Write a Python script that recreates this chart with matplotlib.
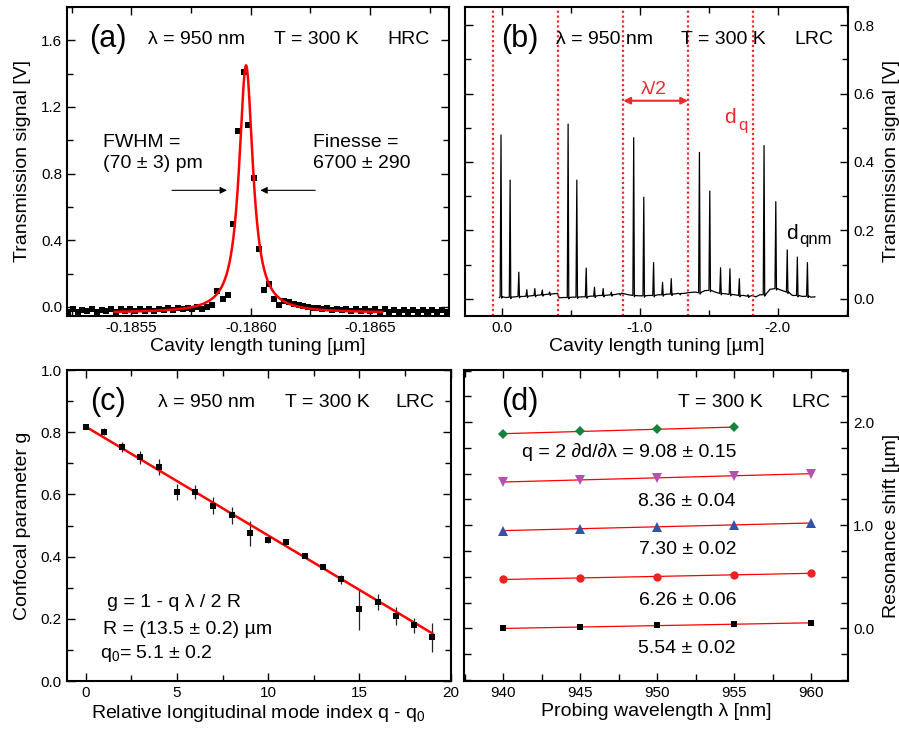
import numpy as np
import matplotlib
matplotlib.use('Agg')
import matplotlib.pyplot as plt
from matplotlib.ticker import MultipleLocator, FormatStrFormatter, FixedLocator

plt.rcParams['font.family'] = ['Liberation Sans', 'DejaVu Sans']
plt.rcParams['axes.unicode_minus'] = False
plt.rcParams['mathtext.fontset'] = 'custom'
plt.rcParams['mathtext.rm'] = 'Liberation Sans'
plt.rcParams['mathtext.it'] = 'Liberation Sans:italic'

RED = '#ff0000'
ANN_RED = '#ec2a2e'

# ---- (a) HRC transmission peak, x as offset in pm from -0.1860 um
a_off_pm = [765, 745, 725, 705, 685, 665, 645, 625, 605, 585, 565, 545, 525, 505,
            485, 465, 445, 425, 405, 385, 365, 345, 325, 305,
            285, 265, 245, 225, 205, 185,
            162, 141, 116, 95, 73, 53, 27, 10, -14, -33, -56, -77, -99, -120, -140, -160,
            -180, -200, -220, -240, -260, -280, -300, -320, -340, -360, -380, -400,
            -420, -440, -460, -480, -500, -520, -540, -560, -580, -600, -620, -640,
            -660, -680, -700, -720, -740, -760, -780, -800, -820, -840]
a_sig = [-0.028, -0.014, -0.030, -0.016, -0.027, -0.013, -0.029, -0.018, -0.026, -0.012,
         -0.028, -0.015, -0.025, -0.012,
         -0.026, -0.011, -0.024, -0.010, -0.022, -0.012, -0.020, -0.008, -0.019, -0.006,
         -0.014, -0.004, -0.012, -0.002, -0.010, 0.000,
         0.012, 0.098, 0.050, 0.074, 0.499, 1.054, 1.407, 1.092, 0.772, 0.345, 0.100,
         0.138, 0.050, 0.010, 0.038, 0.030,
         0.020, 0.012, 0.005, 0.000, -0.008, -0.004, -0.014, -0.008, -0.018, -0.010,
         -0.020, -0.012, -0.024, -0.014, -0.026, -0.013, -0.027, -0.015, -0.028, -0.014,
         -0.029, -0.016, -0.030, -0.017, -0.028, -0.018, -0.031, -0.017, -0.030, -0.019,
         -0.031, -0.018, -0.030, -0.020]
# Lorentzian fit parameters (um)
a_fit_center = -0.18598
a_fit_fwhm = 0.00007
a_fit_amp = 1.485
a_fit_offset = -0.035
a_fit_range = [-0.18543, -0.18655]

# ---- (b) LRC transmission spectrum
b_peak_x = [0.005, -0.061, -0.124, -0.182, -0.240, -0.294, -0.347,
            -0.481, -0.544, -0.612, -0.672, -0.735, -0.794, -0.854,
            -0.956, -1.029, -1.100, -1.165, -1.228, -1.289,
            -1.432, -1.507, -1.585, -1.653, -1.721, -1.784,
            -1.900, -1.985, -2.068, -2.141, -2.214]
b_peak_h = [0.479, 0.347, 0.078, 0.027, 0.030, 0.026, 0.020,
            0.511, 0.347, 0.090, 0.034, 0.030, 0.020, 0.015,
            0.471, 0.297, 0.106, 0.048, 0.059, 0.015,
            0.428, 0.315, 0.091, 0.088, 0.059, 0.012,
            0.448, 0.284, 0.143, 0.122, 0.106]
b_peak_foot = [0.006, 0.005, 0.007, 0.008, 0.010, 0.012, 0.014,
               0.004, 0.005, 0.006, 0.008, 0.010, 0.012, 0.015,
               0.010, 0.009, 0.010, 0.012, 0.014, 0.016,
               0.018, 0.025, 0.016, 0.013, 0.010, 0.008,
               0.012, 0.030, 0.020, 0.010, 0.008]
b_base_x = [0.017, -0.030, -0.092, -0.153, -0.211, -0.267, -0.320, -0.375, -0.405, -0.415,
            -0.445, -0.512, -0.578, -0.642, -0.703, -0.765, -0.824, -0.870, -0.885, -0.920,
            -0.992, -1.064, -1.132, -1.197, -1.258, -1.320, -1.350, -1.400, -1.470, -1.545,
            -1.620, -1.687, -1.752, -1.800, -1.815, -1.840, -1.870, -1.943, -2.027, -2.105,
            -2.178, -2.240, -2.268]
b_base_y = [0.004, 0.004, 0.006, 0.007, 0.009, 0.011, 0.013, 0.015, 0.016, 0.003,
            0.004, 0.005, 0.006, 0.008, 0.010, 0.011, 0.013, 0.017, 0.015, 0.012,
            0.009, 0.010, 0.012, 0.014, 0.015, 0.016, 0.018, 0.020, 0.024, 0.020,
            0.015, 0.012, 0.010, 0.008, 0.010, 0.006, 0.012, 0.028, 0.025, 0.010,
            0.007, 0.005, 0.006]
b_dq_lines = [0.06, -0.41, -0.88, -1.35, -1.82]

# ---- (c) confocal parameter vs mode index
c_q = list(range(20))
c_g = [0.816, 0.802, 0.753, 0.719, 0.688, 0.609, 0.608, 0.564, 0.533, 0.475,
       0.453, 0.448, 0.401, 0.367, 0.327, 0.230, 0.253, 0.209, 0.179, 0.140]
c_err = [0.005, 0.011, 0.016, 0.022, 0.026, 0.026, 0.023, 0.027, 0.027, 0.040,
         0.008, 0.008, 0.005, 0.005, 0.015, 0.067, 0.026, 0.030, 0.025, 0.047]
c_fit_q = [0, 19]
c_fit_g = [0.818, 0.153]

# ---- (d) resonance shift vs wavelength
d_lam = [940, 945, 950, 955, 960]
d_shift_black = [0.000, 0.013, 0.029, 0.039, 0.055]
d_shift_red = [0.477, 0.487, 0.503, 0.519, 0.536]
d_shift_blue = [0.948, 0.968, 0.984, 1.003, 1.023]
d_shift_magenta = [1.419, 1.440, 1.460, 1.480, 1.500]
d_lam_green = [940, 945, 950, 955]
d_shift_green = [1.887, 1.910, 1.932, 1.951]
d_q_labels = ['5.54 ± 0.02', '6.26 ± 0.06', '7.30 ± 0.02', '8.36 ± 0.04',
              'q = 2 ∂d/∂λ = 9.08 ± 0.15']


def style(ax):
    ax.tick_params(which='both', direction='in', top=True, bottom=True,
                   left=True, right=True, width=1.0, labelsize=11)
    ax.tick_params(which='major', length=6)
    ax.tick_params(which='minor', length=4)
    for s in ax.spines.values():
        s.set_linewidth(1.5)


fig = plt.figure(figsize=(8.99, 7.33), dpi=100)
ax_a = fig.add_axes([0.0745, 0.5689, 0.4249, 0.4216])
ax_b = fig.add_axes([0.5172, 0.5689, 0.4264, 0.4216])
ax_c = fig.add_axes([0.0742, 0.0709, 0.4271, 0.4243])
ax_d = fig.add_axes([0.5161, 0.0709, 0.4275, 0.4243])

# (a)
a_x = [-0.1860 + o * 1e-6 for o in a_off_pm]
ax_a.plot(a_x, a_sig, 's', color='black', ms=4.8, mew=0)
fx = np.linspace(a_fit_range[0], a_fit_range[1], 600)
hw = a_fit_fwhm / 2
fy = a_fit_offset + a_fit_amp * hw**2 / ((fx - a_fit_center)**2 + hw**2)
ax_a.plot(fx, fy, color=RED, lw=1.8)
ax_a.set_xlim(-0.18523, -0.18683)
ax_a.set_ylim(-0.054, 1.80)
ax_a.xaxis.set_major_locator(FixedLocator([-0.1855, -0.1860, -0.1865]))
ax_a.xaxis.set_major_formatter(FormatStrFormatter('%.4f'))
ax_a.xaxis.set_minor_locator(MultipleLocator(0.00025))
ax_a.yaxis.set_major_locator(MultipleLocator(0.4))
ax_a.yaxis.set_minor_locator(MultipleLocator(0.2))
ax_a.yaxis.set_major_formatter(FormatStrFormatter('%.1f'))
style(ax_a)
ax_a.set_xlabel('Cavity length tuning [µm]', fontsize=14, labelpad=2)
ax_a.set_ylabel('Transmission signal [V]', fontsize=14, labelpad=7)
ax_a.text(0.107, 0.896, '(a)', transform=ax_a.transAxes, fontsize=22, ha='center', va='center')
ax_a.text(0.340, 0.896, 'λ = 950 nm', transform=ax_a.transAxes, fontsize=14, ha='center', va='center')
ax_a.text(0.654, 0.896, 'T = 300 K', transform=ax_a.transAxes, fontsize=14, ha='center', va='center')
ax_a.text(0.893, 0.896, 'HRC', transform=ax_a.transAxes, fontsize=14, ha='center', va='center')
ax_a.text(0.094, 0.563, 'FWHM =', transform=ax_a.transAxes, fontsize=14, ha='left', va='center')
ax_a.text(0.094, 0.492, '(70 ± 3) pm', transform=ax_a.transAxes, fontsize=14, ha='left', va='center')
ax_a.text(0.644, 0.563, 'Finesse =', transform=ax_a.transAxes, fontsize=14, ha='left', va='center')
ax_a.text(0.644, 0.492, '6700 ± 290', transform=ax_a.transAxes, fontsize=14, ha='left', va='center')
arr = dict(arrowstyle='-|>', color='black', lw=0.8, mutation_scale=10, shrinkA=0, shrinkB=0)
ax_a.annotate('', xy=(-0.18590, 0.70), xytext=(-0.18567, 0.70), arrowprops=arr)
ax_a.annotate('', xy=(-0.18604, 0.70), xytext=(-0.18627, 0.70), arrowprops=arr)

# (b)
verts = list(zip(b_base_x, b_base_y))
w = 0.006
for px, h, ft in zip(b_peak_x, b_peak_h, b_peak_foot):
    verts += [(px + w, ft), (px, h), (px - w * 0.8, ft - 0.004), (px - w * 1.6, ft)]
verts.sort(key=lambda v: -v[0])
ax_b.plot([v[0] for v in verts], [v[1] for v in verts], color='black', lw=0.9)
for xl in b_dq_lines:
    ax_b.axvline(xl, color=ANN_RED, lw=1.6, ls=(0, (1, 1.2)))
ax_b.annotate('', xy=(-0.88, 0.579), xytext=(-1.35, 0.579),
              arrowprops=dict(arrowstyle='<|-|>', color=ANN_RED, lw=1.5,
                              mutation_scale=10, shrinkA=0, shrinkB=0))
ax_b.text(-1.10, 0.613, 'λ/2', color=ANN_RED, fontsize=14, ha='center', va='center')
ax_b.text(-1.654, 0.529, 'd', color=ANN_RED, fontsize=15, ha='center', va='center')
ax_b.text(-1.745, 0.508, 'q', color=ANN_RED, fontsize=12, ha='center', va='center')
ax_b.text(-2.101, 0.190, 'd', color='black', fontsize=15, ha='center', va='center')
ax_b.text(-2.27, 0.174, 'qnm', color='black', fontsize=12, ha='center', va='center')
ax_b.set_xlim(0.266, -2.51)
ax_b.set_ylim(-0.05, 0.853)
ax_b.xaxis.set_major_locator(MultipleLocator(1.0))
ax_b.xaxis.set_minor_locator(MultipleLocator(0.5))
ax_b.xaxis.set_major_formatter(FormatStrFormatter('%.1f'))
ax_b.yaxis.set_major_locator(MultipleLocator(0.2))
ax_b.yaxis.set_minor_locator(MultipleLocator(0.1))
ax_b.yaxis.set_major_formatter(FormatStrFormatter('%.1f'))
style(ax_b)
ax_b.tick_params(labelleft=False, labelright=True)
ax_b.yaxis.set_label_position('right')
ax_b.set_xlabel('Cavity length tuning [µm]', fontsize=14, labelpad=2)
ax_b.set_ylabel('Transmission signal [V]', fontsize=14, labelpad=6)
ax_b.text(0.143, 0.896, '(b)', transform=ax_b.transAxes, fontsize=22, ha='center', va='center')
ax_b.text(0.363, 0.896, 'λ = 950 nm', transform=ax_b.transAxes, fontsize=14, ha='center', va='center')
ax_b.text(0.674, 0.896, 'T = 300 K', transform=ax_b.transAxes, fontsize=14, ha='center', va='center')
ax_b.text(0.909, 0.896, 'LRC', transform=ax_b.transAxes, fontsize=14, ha='center', va='center')

# (c)
ax_c.errorbar(c_q, c_g, yerr=c_err, fmt='s', color='black', ms=4, mew=0,
              ecolor='#222222', elinewidth=0.9, capsize=3.5, capthick=1.0)
ax_c.plot(c_fit_q, c_fit_g, color=RED, lw=1.8)
ax_c.set_xlim(-1.04, 20)
ax_c.set_ylim(0, 1.0)
ax_c.xaxis.set_major_locator(MultipleLocator(5))
ax_c.xaxis.set_minor_locator(MultipleLocator(2.5))
ax_c.yaxis.set_major_locator(MultipleLocator(0.2))
ax_c.yaxis.set_minor_locator(MultipleLocator(0.1))
ax_c.yaxis.set_major_formatter(FormatStrFormatter('%.1f'))
style(ax_c)
ax_c.set_xlabel('Relative longitudinal mode index q - q$_0$', fontsize=14, labelpad=2)
ax_c.set_ylabel('Confocal parameter g', fontsize=14, labelpad=7)
ax_c.text(0.108, 0.897, '(c)', transform=ax_c.transAxes, fontsize=22, ha='center', va='center')
ax_c.text(0.365, 0.897, 'λ = 950 nm', transform=ax_c.transAxes, fontsize=14, ha='center', va='center')
ax_c.text(0.678, 0.897, 'T = 300 K', transform=ax_c.transAxes, fontsize=14, ha='center', va='center')
ax_c.text(0.907, 0.897, 'LRC', transform=ax_c.transAxes, fontsize=14, ha='center', va='center')
ax_c.text(0.105, 0.254, 'g = 1 - q λ / 2 R', transform=ax_c.transAxes, fontsize=14, ha='left', va='center')
ax_c.text(0.095, 0.167, 'R = (13.5 ± 0.2) µm', transform=ax_c.transAxes, fontsize=14, ha='left', va='center')
ax_c.text(0.088, 0.090, 'q$_0$= 5.1 ± 0.2', transform=ax_c.transAxes, fontsize=14, ha='left', va='center')

# (d)
series = [(d_lam, d_shift_black, 's', 'black', 5),
          (d_lam, d_shift_red, 'o', '#ee2222', 6),
          (d_lam, d_shift_blue, '^', '#3553a6', 6.5),
          (d_lam, d_shift_magenta, 'v', '#b452b0', 6.5),
          (d_lam_green, d_shift_green, 'D', '#17803a', 5.5)]
for lx, sy, mk, col, ms in series:
    p = np.polyfit(lx, sy, 1)
    ax_d.plot([lx[0], lx[-1]], np.polyval(p, [lx[0], lx[-1]]), color=RED, lw=0.9, zorder=2)
    ax_d.plot(lx, sy, mk, color=col, ms=ms, mew=0, zorder=3)
ax_d.set_xlim(937.45, 962.4)
ax_d.set_ylim(-0.51, 2.505)
ax_d.xaxis.set_major_locator(MultipleLocator(5))
ax_d.xaxis.set_minor_locator(MultipleLocator(2.5))
ax_d.yaxis.set_major_locator(MultipleLocator(1.0))
ax_d.yaxis.set_minor_locator(MultipleLocator(0.25))
ax_d.yaxis.set_major_formatter(FormatStrFormatter('%.1f'))
style(ax_d)
ax_d.tick_params(which='minor', length=5)
ax_d.tick_params(labelleft=False, labelright=True)
ax_d.yaxis.set_label_position('right')
ax_d.set_xlabel('Probing wavelength λ [nm]', fontsize=14, labelpad=2)
ax_d.set_ylabel('Resonance shift [µm]', fontsize=14, labelpad=6)
ax_d.text(0.146, 0.897, '(d)', transform=ax_d.transAxes, fontsize=22, ha='center', va='center')
ax_d.text(0.668, 0.897, 'T = 300 K', transform=ax_d.transAxes, fontsize=14, ha='center', va='center')
ax_d.text(0.902, 0.897, 'LRC', transform=ax_d.transAxes, fontsize=14, ha='center', va='center')
for lab, yy in zip(d_q_labels, [0.103, 0.260, 0.424, 0.576, 0.737]):
    ax_d.text(0.708, yy, lab, transform=ax_d.transAxes, fontsize=14, ha='right', va='center')

fig.savefig('out.png', dpi=100)
